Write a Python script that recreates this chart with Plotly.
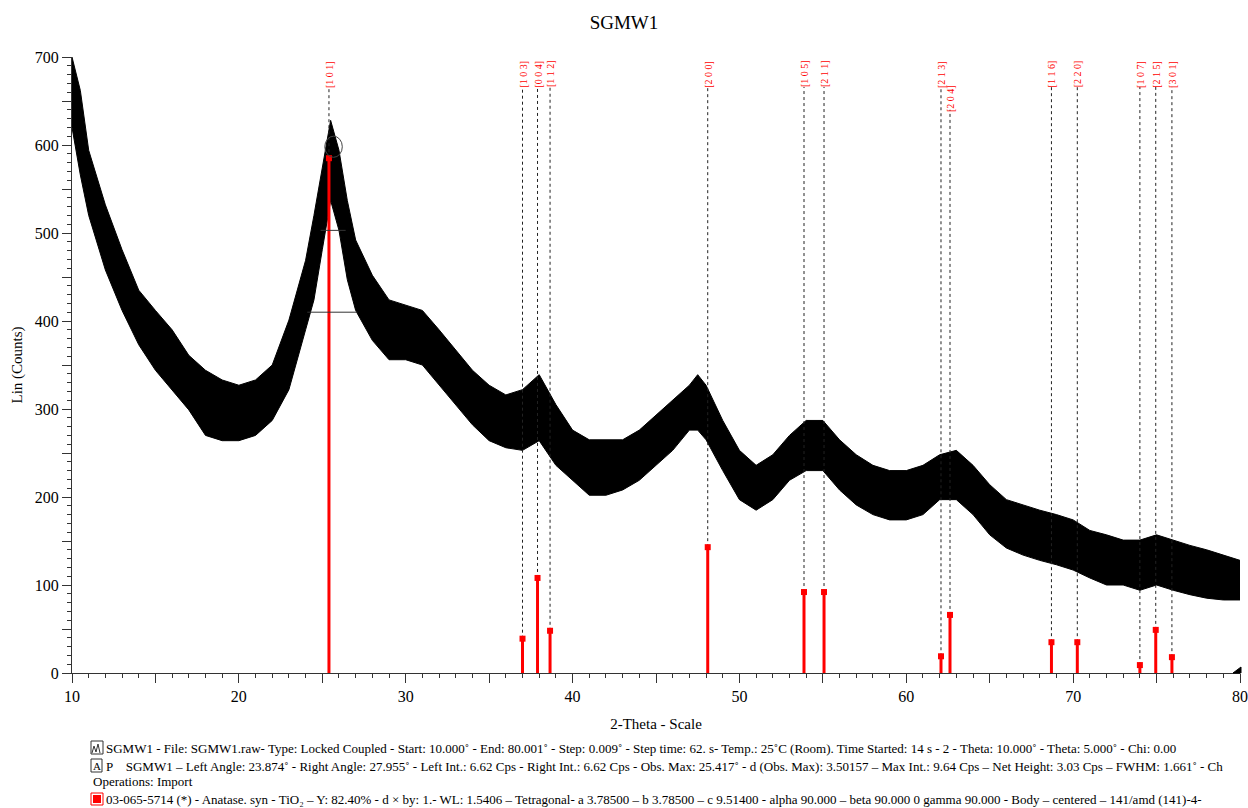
import plotly.graph_objects as go

# ---------------- data ----------------
scan_x = [10, 10.5, 11, 12, 13, 14, 15, 16, 17, 18, 19, 20, 21, 22, 23, 24, 24.5, 25, 25.5, 26, 26.5,
          27, 28, 29, 30, 31, 32, 33, 34, 35, 36, 37, 38, 39, 40, 41, 42, 43, 44, 45, 46, 47, 47.5,
          48, 49, 50, 51, 52, 53, 54, 55, 56, 57, 58, 59, 60, 61, 62, 63, 64, 65, 66, 67, 68, 69,
          70, 71, 72, 73, 74, 75, 76, 77, 78, 79, 80]
scan_upper = [700, 662, 594, 532, 481, 435, 412, 390, 361, 344, 333, 327, 333, 350, 401, 469, 520, 572, 628, 594, 537,
              492, 452, 424, 418, 412, 390, 367, 344, 327, 316, 322, 339, 305, 276, 265, 265, 265, 276, 293, 310, 327, 339,
              327, 287, 253, 236, 248, 270, 287, 287, 265, 248, 236, 230, 230, 236, 248, 253, 236, 214, 197, 191, 185, 180,
              174, 162, 157, 151, 151, 157, 151, 145, 140, 134, 128]
scan_lower = [620, 566, 520, 458, 412, 373, 344, 322, 299, 270, 264, 264, 270, 287, 322, 390, 424, 481, 537, 503, 447,
              412, 378, 356, 356, 350, 327, 305, 282, 264, 256, 253, 264, 236, 219, 202, 202, 208, 219, 236, 253, 276, 276,
              265, 230, 197, 185, 197, 219, 230, 230, 208, 191, 180, 174, 174, 180, 197, 197, 180, 157, 142, 134, 128, 123,
              117, 108, 100, 100, 94, 100, 94, 89, 85, 83, 83]

ref_pos = [25.4, 37.0, 37.9, 38.65, 48.1, 53.87, 55.07, 62.08, 62.62, 68.7, 70.25, 74.0, 74.95, 75.92]
ref_int = [585, 39, 108, 48, 143, 92, 92, 19, 66, 35, 35, 9, 49, 18]
ref_hkl = ["[1 0 1]", "[1 0 3]", "[0 0 4]", "[1 1 2]", "[2 0 0]", "[1 0 5]", "[2 1 1]",
           "[2 1 3]", "[2 0 4]", "[1 1 6]", "[2 2 0]", "[1 0 7]", "[2 1 5]", "[3 0 1]"]
ref_label_low = [False, False, False, False, False, False, False, False, True, False, False, False, False, False]

# peak-evaluation marks (Obs. Max circle, width lines)
peak_circle_x = [25.15, 26.2]
peak_circle_y = [586, 610]
width_line_upper_x = [24.9, 26.4]
width_line_upper_y = 503
width_line_lower_x = [24.1, 27.1]
width_line_lower_y = 410

x_ticks = [10, 15, 20, 25, 30, 35, 40, 45, 50, 55, 60, 65, 70, 75, 80]
x_ticktext = ["10", "", "20", "", "30", "", "40", "", "50", "", "60", "", "70", "", "80"]
y_ticks = [0, 50, 100, 150, 200, 250, 300, 350, 400, 450, 500, 550, 600, 650, 700]
y_ticktext = ["0", "", "100", "", "200", "", "300", "", "400", "", "500", "", "600", "", "700"]

title_text = "SGMW1"
info_lines = [
    "SGMW1 - File: SGMW1.raw- Type: Locked Coupled - Start: 10.000˚ - End: 80.001˚ - Step: 0.009˚ - Step time: 62. s- Temp.: 25˚C (Room). Time Started: 14 s - 2 - Theta: 10.000˚ - Theta: 5.000˚ - Chi: 0.00",
    "P    SGMW1 – Left Angle: 23.874˚ - Right Angle: 27.955˚ - Left Int.: 6.62 Cps - Right Int.: 6.62 Cps - Obs. Max: 25.417˚ - d (Obs. Max): 3.50157 – Max Int.: 9.64 Cps – Net Height: 3.03 Cps – FWHM: 1.661˚ - Ch",
    "Operations: Import",
    "03-065-5714 (*) - Anatase. syn - TiO₂ – Y: 82.40% - d × by: 1.- WL: 1.5406 – Tetragonal- a 3.78500 – b 3.78500 – c 9.51400 - alpha 90.000 – beta 90.000 0 gamma 90.000 - Body – centered – 141/amd (141)-4-",
]

# ---------------- layout helpers ----------------
W, H = 1248, 808
L, R, T, B = 72, 8, 57, 135
PW, PH = W - L - R, H - T - B
FONT = "Liberation Serif"


def px(xp):
    return (xp - L) / PW


def py(yp):
    return (H - B - yp) / PH


fig = go.Figure()

# scan band
fig.add_trace(go.Scatter(x=scan_x, y=scan_lower, mode="lines", line=dict(color="black", width=1),
                         hoverinfo="skip", showlegend=False))
fig.add_trace(go.Scatter(x=scan_x, y=scan_upper, mode="lines", line=dict(color="black", width=1),
                         fill="tonexty", fillcolor="black", hoverinfo="skip", showlegend=False))

# dashed guide lines to labels
dash_top_high = 666
dash_top_low = 640
dx, dy = [], []
for p, h, low in zip(ref_pos, ref_int, ref_label_low):
    dx += [p, p, None]
    dy += [h, dash_top_low if low else dash_top_high, None]
fig.add_trace(go.Scatter(x=dx, y=dy, mode="lines", line=dict(color="#222", width=1, dash="3px,3px"),
                         hoverinfo="skip", showlegend=False, cliponaxis=False))

# red reference sticks
sx, sy = [], []
for p, h in zip(ref_pos, ref_int):
    sx += [p, p, None]
    sy += [0, h, None]
fig.add_trace(go.Scatter(x=sx, y=sy, mode="lines", line=dict(color="#ff0000", width=3),
                         hoverinfo="skip", showlegend=False))
fig.add_trace(go.Scatter(x=ref_pos, y=ref_int, mode="markers",
                         marker=dict(symbol="square", size=6, color="#ff0000"),
                         hoverinfo="skip", showlegend=False))

# peak evaluation marks
fig.add_trace(go.Scatter(x=width_line_upper_x, y=[width_line_upper_y] * 2, mode="lines",
                         line=dict(color="#333", width=1), hoverinfo="skip", showlegend=False))
fig.add_trace(go.Scatter(x=width_line_lower_x, y=[width_line_lower_y] * 2, mode="lines",
                         line=dict(color="#333", width=1), hoverinfo="skip", showlegend=False))
fig.add_shape(type="circle", xref="x", yref="y", x0=peak_circle_x[0], x1=peak_circle_x[1],
              y0=peak_circle_y[0], y1=peak_circle_y[1], line=dict(color="#444", width=1))

# hkl labels
for p, t, low in zip(ref_pos, ref_hkl, ref_label_low):
    fig.add_annotation(x=p, xref="x", y=py(99 if low else 74), yref="paper", text=t, textangle=-90,
                       showarrow=False, font=dict(family=FONT, size=10, color="#ff0000"),
                       xanchor="center", yanchor="middle")

# axis arrow at the end of the x axis
fig.add_shape(type="path", xref="paper", yref="paper",
              path=f"M {px(1233)} {py(673)} L {px(1241)} {py(673)} L {px(1241)} {py(667)} Z",
              fillcolor="black", line=dict(color="black", width=1))

# info block
ys = [748, 766, 781, 799]
xs = [104, 104, 91, 104]
for t, yy, xx in zip(info_lines, ys, xs):
    fig.add_annotation(x=px(xx), xref="paper", y=py(yy), yref="paper", text=t, showarrow=False,
                       xanchor="left", yanchor="middle", font=dict(family=FONT, size=13, color="black"))

# icons
fig.add_shape(type="rect", xref="paper", yref="paper", x0=px(91), x1=px(103), y0=py(754), y1=py(741),
              line=dict(color="#333", width=1))
fig.add_shape(type="path", xref="paper", yref="paper",
              path=f"M {px(92)} {py(753)} L {px(94)} {py(746)} L {px(96)} {py(752)} L {px(98)} {py(744)} L {px(100)} {py(753)}",
              line=dict(color="#333", width=1))
fig.add_shape(type="rect", xref="paper", yref="paper", x0=px(91), x1=px(102), y0=py(772), y1=py(759),
              line=dict(color="#333", width=1))
fig.add_annotation(x=px(96.5), xref="paper", y=py(766), yref="paper", text="A", showarrow=False,
                   font=dict(family=FONT, size=11, color="black"), xanchor="center", yanchor="middle")
fig.add_shape(type="rect", xref="paper", yref="paper", x0=px(91), x1=px(103), y0=py(805), y1=py(793),
              line=dict(color="#ff0000", width=1))
fig.add_shape(type="rect", xref="paper", yref="paper", x0=px(93), x1=px(101), y0=py(803), y1=py(795),
              fillcolor="#ff0000", line=dict(color="#ff0000", width=0))

axis_common = dict(showline=True, linecolor="#333", linewidth=1, ticks="outside", tickcolor="#333",
                   showgrid=False, zeroline=False, automargin=False,
                   tickfont=dict(family=FONT, size=16, color="black"))

fig.update_layout(
    width=W, height=H,
    margin=dict(l=L, r=R, t=T, b=B, autoexpand=False),
    paper_bgcolor="white", plot_bgcolor="white",
    title=dict(text=title_text, x=0.5, xref="container", y=1 - 22 / H, yanchor="middle",
               font=dict(family=FONT, size=19, color="black")),
    xaxis=dict(range=[10, 80], tickmode="array", tickvals=x_ticks, ticktext=x_ticktext, ticklen=9,
               minor=dict(dtick=1, ticklen=4, ticks="outside", tickcolor="#333"),
               title=dict(text="2-Theta - Scale", font=dict(family=FONT, size=15, color="black"), standoff=14),
               **axis_common),
    yaxis=dict(range=[0, 700], tickmode="array", tickvals=y_ticks, ticktext=y_ticktext, ticklen=9,
               minor=dict(dtick=10, ticklen=4, ticks="outside", tickcolor="#333"),
               title=dict(text="Lin (Counts)", font=dict(family=FONT, size=15, color="black"), standoff=8),
               **axis_common),
    showlegend=False,
)

fig.write_html("out.html")
